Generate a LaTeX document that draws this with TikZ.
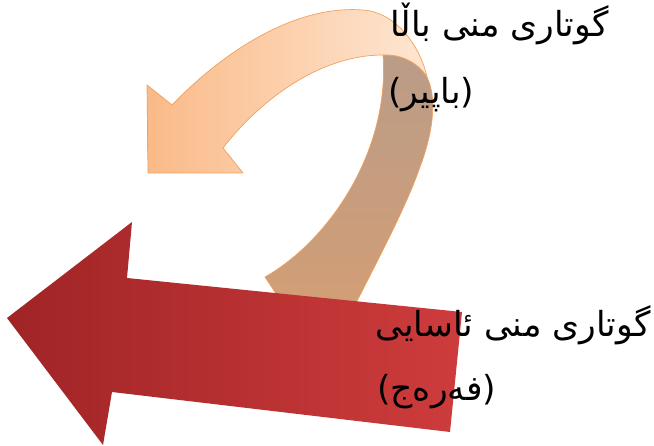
\documentclass[tikz,border=0pt]{standalone}
\usepackage{fontspec}
\newfontfamily\arabicfont[Script=Arabic]{DejaVu Sans}
\TeXXeTstate=1
\definecolor{redL}{RGB}{160,36,38}
\definecolor{redR}{RGB}{206,60,60}
\definecolor{orHead}{RGB}{250,186,136}
\definecolor{orPale}{RGB}{254,230,210}
\definecolor{orEdge}{RGB}{242,160,92}
\definecolor{tailTop}{RGB}{186,156,136}
\definecolor{tailBot}{RGB}{212,158,116}
\tikzset{
  lbl/.style={font=\arabicfont\fontsize{34.5}{40}\selectfont, inner sep=0pt, text=black},
  bandedge/.style={draw=orEdge, line width=0.7pt, line join=round}
}
\begin{document}
\begin{tikzpicture}[x=1pt,y=-1pt]
\useasboundingbox[fill=white] (0,0) rectangle (654,446);
% tail (back part of curved arrow)
\shade[top color=tailTop, bottom color=tailBot, bandedge]
  (383,55) .. controls (400,54) and (418,62) .. (427,77)
  .. controls (438,100) and (432,135) .. (420,167)
  .. controls (405,210) and (375,265) .. (350,315)
  -- (300,330) -- (265,277)
  .. controls (330,240) and (390,150) .. (383,55) -- cycle;
% front part of curved arrow with head
\shade[left color=orHead, right color=orPale, bandedge]
  (172,105) .. controls (230,45) and (300,5) .. (363,10)
  .. controls (395,12) and (420,45) .. (427,77)
  .. controls (418,62) and (400,54) .. (383,55)
  .. controls (320,55) and (260,100) .. (223,148)
  -- (243,173) -- (148,173) -- (147,85) -- cycle;
% red straight arrow
\shade[left color=redL, right color=redR]
  (7,318) -- (132,222) -- (127,278) -- (462,312) -- (450,432)
  -- (112,392) -- (103,445) -- cycle;
% labels
\node[lbl, anchor=base east] (t1) at (609,37) {\beginR گوتاری منی باڵا\endR};
\node[lbl, anchor=base west] (t2) at (388,104) {\beginR (باپیر)\endR};
\node[lbl, anchor=base east] (t3) at (651,337) {\beginR گوتاری منی ئاسایی\endR};
\node[lbl, anchor=base west] (t4) at (377,401) {\beginR (فەرەج)\endR};
\end{tikzpicture}
\end{document}
